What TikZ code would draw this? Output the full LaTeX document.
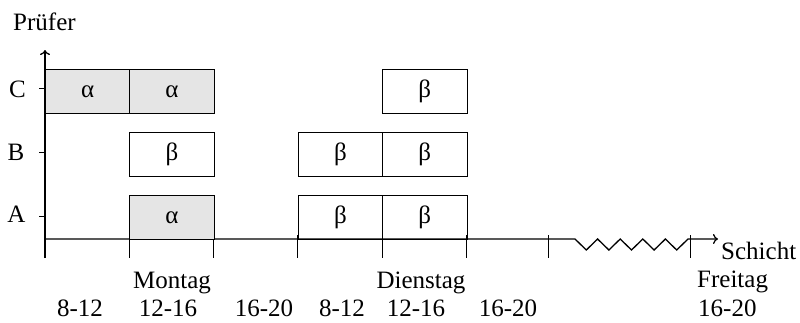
\documentclass[tikz,border=0pt]{standalone}
\usepackage{fontspec}
\setmainfont{Liberation Serif}
\usetikzlibrary{arrows.meta}
\begin{document}
\begin{tikzpicture}[x=1pt,y=-1pt,
  every node/.style={font=\fontsize{25}{30}\selectfont, inner sep=0pt},
  slot/.style={draw=black, line width=1pt, minimum width=84.3pt, minimum height=44pt, anchor=north west},
  shaded/.style={slot, fill=black!10},
  axisline/.style={line width=1.3pt},
  tickmark/.style={line width=1pt},
  lbl/.style={anchor=base},
  arrowtip/.style={-{To[length=5pt,width=10pt]}}]
\useasboundingbox (0,0) rectangle (800,322);

% axes
\coordinate (O) at (45,239);
\coordinate (ybot) at (45,258);
\coordinate (ytop) at (45,50);
\coordinate (zzstart) at (575,239);
\coordinate (zzend) at (688,239);
\coordinate (xtip) at (718,239);
\draw[axisline,arrowtip] (ybot) -- (ytop);
\draw[axisline,arrowtip] (O) -- (zzstart)
  -- (586.3,250) -- (597.6,239) -- (608.9,250) -- (620.2,239)
  -- (631.5,250) -- (642.8,239) -- (654.1,250) -- (665.4,239)
  -- (676.7,250) -- (zzend) -- (xtip);

% x ticks
\foreach \x in {45,129.3,213.6,297.9,382.2,466.5,548,690}
  \draw[tickmark] (\x,235) -- (\x,258);
% y ticks
\foreach \y in {88,152,216}
  \draw[tickmark] (39,\y) -- (45,\y);

% axis labels
\node[anchor=base west] (pruefer) at (13,30) {Prüfer};
\node[anchor=base west] (schicht) at (721,259) {Schicht};
\node[lbl] (lC) at (17.5,97) {C};
\node[lbl] (lB) at (16,160) {B};
\node[lbl] (lA) at (16.5,222) {A};

% boxes row C
\node[shaded] (c1) at (45,69) {α};
\node[shaded] (c2) at (129.3,69) {α};
\node[slot] (c5) at (382.2,69) {β};
% row B
\node[slot] (b2) at (129.3,132) {β};
\node[slot] (b4) at (297.9,132) {β};
\node[slot] (b5) at (382.2,132) {β};
% row A
\node[shaded] (a2) at (129.3,195) {α};
\node[slot] (a4) at (297.9,195) {β};
\node[slot] (a5) at (382.2,195) {β};

% day labels
\node[lbl] (mon) at (172,288) {Montag};
\node[lbl] (die) at (421,288) {Dienstag};
\node[anchor=base west] (fre) at (697,287) {Freitag};

% shift labels
\node[lbl] (t1) at (80,316) {8-12};
\node[lbl] (t2) at (168,316) {12-16};
\node[lbl] (t3) at (264,316) {16-20};
\node[lbl] (t4) at (342,316) {8-12};
\node[lbl] (t5) at (416,316) {12-16};
\node[lbl] (t6) at (508,316) {16-20};
\node[anchor=base west] (t7) at (698,316) {16-20};
\end{tikzpicture}
\end{document}
